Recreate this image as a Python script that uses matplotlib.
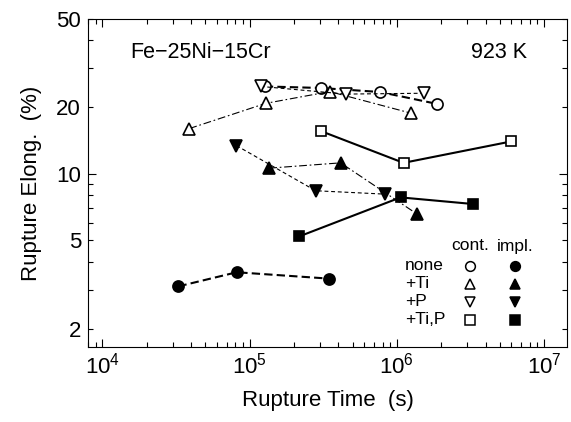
import matplotlib
matplotlib.use("Agg")
import matplotlib.pyplot as plt
from matplotlib.ticker import FixedLocator, FuncFormatter, NullFormatter

plt.rcParams['font.family'] = ['Liberation Sans', 'DejaVu Sans']
plt.rcParams['mathtext.fontset'] = 'custom'
plt.rcParams['mathtext.rm'] = 'Liberation Sans'
plt.rcParams['mathtext.it'] = 'Liberation Sans'
plt.rcParams['mathtext.bf'] = 'Liberation Sans'

# ---- data (rupture time in s, rupture elongation in %) ----
none_cont_t = [1.27e5, 3.04e5, 7.7e5, 1.86e6]
none_cont_e = [24.8, 24.4, 23.4, 20.7]
ti_cont_t = [3.9e4, 1.29e5, 3.5e5, 1.24e6]
ti_cont_e = [16.0, 20.8, 23.5, 18.8]
p_cont_t = [1.19e5, 4.5e5, 1.52e6]
p_cont_e = [24.8, 22.9, 23.1]
tip_cont_t = [3.04e5, 1.11e6, 6.0e6]
tip_cont_e = [15.6, 11.2, 14.0]

none_impl_t = [3.29e4, 8.18e4, 3.46e5]
none_impl_e = [3.10, 3.59, 3.36]
ti_impl_t = [1.36e5, 4.15e5, 1.37e6]
ti_impl_e = [10.6, 11.2, 6.58]
p_impl_t = [8.15e4, 2.81e5, 8.3e5]
p_impl_e = [13.4, 8.38, 8.09]
tip_impl_t = [2.17e5, 1.06e6, 3.29e6]
tip_impl_e = [5.21, 7.82, 7.30]

legend_rows = ['none', '+Ti', '+P', '+Ti,P']
legend_cols = ['cont.', 'impl.']
y_labels = [2, 5, 10, 20, 50]

W, H = 571, 422
fig = plt.figure(figsize=(W / 100, H / 100), dpi=100)
L, R, T, B = 88, 567, 19, 347
ax = fig.add_axes([L / W, 1 - B / H, (R - L) / W, (B - T) / H])
ax.set_xscale('log')
ax.set_yscale('log')
ax.set_xlim(8e3, 1.43e7)
ax.set_ylim(1.65, 50)

styles = {
    'none': dict(ls=(0, (4, 2)), lw=1.5, marker_o='o'),
    'ti': dict(ls=(0, (7, 2.5, 1.5, 2.5)), lw=0.8, marker_o='^'),
    'p': dict(ls=(0, (3.5, 2.5)), lw=0.8, marker_o='v'),
    'tip': dict(ls='-', lw=1.5, marker_o='s'),
}
ms = 8
series = [
    ('none', none_cont_t, none_cont_e, False),
    ('ti', ti_cont_t, ti_cont_e, False),
    ('p', p_cont_t, p_cont_e, False),
    ('tip', tip_cont_t, tip_cont_e, False),
    ('none', none_impl_t, none_impl_e, True),
    ('ti', ti_impl_t, ti_impl_e, True),
    ('p', p_impl_t, p_impl_e, True),
    ('tip', tip_impl_t, tip_impl_e, True),
]
for key, t, e, filled in series:
    st = styles[key]
    ax.plot(t, e, color='black', linestyle=st['ls'], lw=st['lw'],
            marker=st['marker_o'], ms=ms if st['marker_o'] != 's' else 7.5,
            mfc='black' if filled else 'white', mec='black', mew=1.2, zorder=3)

# ticks
ax.tick_params(which='both', direction='in', top=True, right=True, width=0.8,
               labelsize=16, colors='black')
ax.tick_params(which='major', length=6, pad=5)
ax.tick_params(which='minor', length=3.5, pad=5)
ax.yaxis.set_major_locator(FixedLocator([10]))
ax.yaxis.set_minor_locator(FixedLocator([2, 3, 4, 5, 6, 7, 8, 9, 20, 30, 40, 50]))
ax.yaxis.set_major_formatter(FuncFormatter(lambda v, p: '%d' % v))
ax.yaxis.set_minor_formatter(FuncFormatter(lambda v, p: ('%d' % v) if int(round(v)) in y_labels else ''))
for lab in ax.yaxis.get_minorticklabels():
    lab.set_fontsize(16)
ax.tick_params(axis='y', which='minor', labelsize=16)
ax.xaxis.set_minor_formatter(NullFormatter())
ax.tick_params(axis='x', which='major', pad=4)
for s in ax.spines.values():
    s.set_linewidth(0.8)

ax.set_xlabel('Rupture Time  (s)', fontsize=16, labelpad=8)
ax.set_ylabel('Rupture Elong.  (%)', fontsize=16, labelpad=10)

def fx(px):
    return px / W
def fy(py):
    return 1 - py / H

fig.text(fx(130), fy(53), 'Fe\u221225Ni\u221215Cr', fontsize=15.5, va='center', ha='left')
fig.text(fx(527), fy(53), '923 K', fontsize=15.5, va='center', ha='right')

# text-table legend
col_x = [470, 515]
row_y = [266, 284, 302, 320]
head_y = 246
for cx, name in zip(col_x, legend_cols):
    fig.text(fx(cx), fy(head_y), name, fontsize=12.5, ha='center', va='center')
markers = ['o', '^', 'v', 's']
for ry, name, mk in zip(row_y, legend_rows, markers):
    fig.text(fx(405), fy(ry), name, fontsize=12.5, ha='left', va='center')
    for cx, filled in zip(col_x, [False, True]):
        fig.add_artist(matplotlib.lines.Line2D([fx(cx)], [fy(ry)], transform=fig.transFigure,
                                               marker=mk, ms=7 if mk != 's' else 6.5,
                                               mfc='black' if filled else 'white',
                                               mec='black', mew=1.1, ls='none'))

fig.savefig('out.png', dpi=100)
